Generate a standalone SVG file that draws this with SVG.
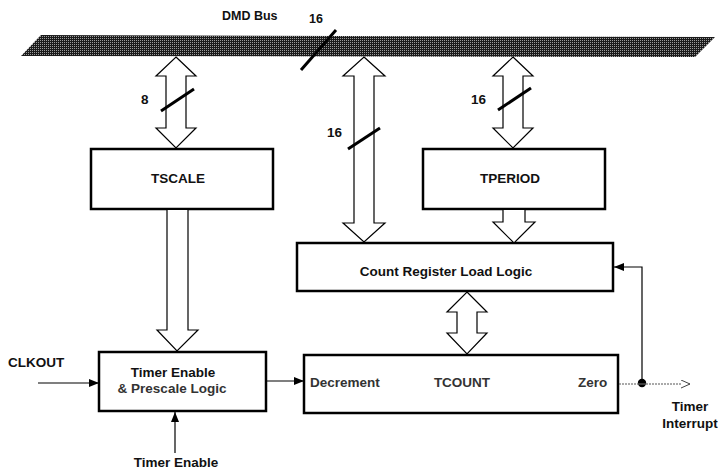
<svg xmlns="http://www.w3.org/2000/svg" width="718" height="471" viewBox="0 0 718 471">
<defs>
<pattern id="halftone" width="2" height="2" patternUnits="userSpaceOnUse">
<rect width="2" height="2" fill="#1a1a1a"/>
<rect x="0" y="0" width="1" height="1" fill="#9a9a9a"/>
</pattern>
<marker id="fill" markerWidth="10" markerHeight="8" refX="10" refY="4" orient="auto" markerUnits="userSpaceOnUse">
<path d="M0,0 L10,4 L0,8 Z" fill="#000"/>
</marker>
<marker id="open" markerWidth="11" markerHeight="9" refX="10" refY="4.5" orient="auto" markerUnits="userSpaceOnUse">
<path d="M1,0.5 L10,4.5 L1,8.5" fill="#fff" stroke="#444" stroke-width="1"/>
</marker>
</defs>
<style>
text{font-family:"Liberation Sans",Arial,sans-serif;font-weight:bold;fill:#111}
.lbl{font-size:13.5px}
.mid{text-anchor:middle}
.box{fill:#fff;stroke:#000;stroke-width:2.5}
.bus{fill:#fff;stroke:#000;stroke-width:1.2;stroke-linejoin:miter}
.slash{stroke:#000;stroke-width:3;fill:none}
.wire{stroke:#000;stroke-width:1.2;fill:none}
.dash{stroke:#555;stroke-width:1;fill:none;stroke-dasharray:2 1}
</style>

<g id="dmd-bus">
<path d="M41,35 L715,37 L695,57 L21,56 Z" fill="url(#halftone)"/>
<text x="222" y="20" class="lbl" style="font-size:12.5px">DMD Bus</text>
<text x="309" y="23" class="lbl" style="font-size:12.5px">16</text>
</g>

<g id="tscale">
<rect class="box" x="91" y="149" width="182" height="60"/>
<text class="lbl mid" x="178" y="183">TSCALE</text>
</g>

<g id="tperiod">
<rect class="box" x="423" y="149" width="182" height="60"/>
<text class="lbl mid" x="510" y="183">TPERIOD</text>
</g>

<g id="count-register-load-logic">
<rect class="box" x="297" y="243" width="316" height="48"/>
<text class="lbl mid" x="446" y="276">Count Register Load Logic</text>
</g>

<g id="timer-enable-prescale">
<rect class="box" x="99" y="352" width="167" height="59"/>
<text class="lbl mid" x="173" y="377">Timer Enable</text>
<text class="lbl mid" x="172" y="393" style="fill:#333">&amp; Prescale Logic</text>
</g>

<g id="tcount">
<rect class="box" x="304" y="355" width="314" height="58"/>
<text class="lbl" x="310" y="387" style="fill:#333">Decrement</text>
<text class="lbl mid" x="462" y="387" style="fill:#333">TCOUNT</text>
<text class="lbl" x="578" y="387" style="fill:#333">Zero</text>
</g>

<g id="clkout">
<text class="lbl" x="8" y="367">CLKOUT</text>
</g>

<g id="timer-enable-input">
<text class="lbl mid" x="176" y="467">Timer Enable</text>
</g>

<g id="timer-interrupt">
<text class="lbl mid" x="690" y="411">Timer</text>
<text class="lbl mid" x="690" y="428">Interrupt</text>
</g>

<g id="connectors">
<path class="bus" d="M176,57 L196,76 L186,76 L186,128 L196,128 L176,148 L156,128 L166,128 L166,76 L156,76 Z"/>
<path class="bus" d="M364,57 L385,76 L374,76 L374,223 L385,223 L364,242 L343,223 L354,223 L354,76 L343,76 Z"/>
<path class="bus" d="M513,57 L533,76 L523,76 L523,128 L533,128 L513,148 L493,128 L503,128 L503,76 L493,76 Z"/>
<path class="bus" d="M503,210 L503,222 L493,222 L514,243 L535,222 L525,222 L525,210"/>
<path class="bus" d="M467,292 L487,312 L477,312 L477,333 L487,333 L467,354 L447,333 L457,333 L457,312 L447,312 Z"/>
<path class="bus" d="M167,210 L167,330 L157,330 L177,351 L198,330 L188,330 L188,210"/>
<line class="slash" x1="301" y1="70" x2="336" y2="30"/>
<line class="slash" x1="161" y1="111" x2="194" y2="89"/>
<line class="slash" x1="348" y1="149" x2="380" y2="128"/>
<line class="slash" x1="498" y1="110" x2="531" y2="88"/>
<text class="lbl" x="141" y="104">8</text>
<text class="lbl" x="327" y="137">16</text>
<text class="lbl" x="471" y="104">16</text>
<line class="wire" x1="38" y1="383" x2="99" y2="383" marker-end="url(#fill)"/>
<line class="wire" x1="175" y1="453" x2="175" y2="412" marker-end="url(#fill)"/>
<line class="wire" x1="267" y1="381" x2="304" y2="381" marker-end="url(#fill)"/>
<polyline class="wire" points="642,383 642,267 614,267" marker-end="url(#fill)"/>
<line class="dash" x1="619" y1="384" x2="690" y2="384" marker-end="url(#open)"/>
<circle cx="642" cy="383" r="4.2" fill="#000"/>
<line x1="637.5" y1="384" x2="646.5" y2="384" stroke="#999" stroke-width="0.8"/>
</g>
</svg>
